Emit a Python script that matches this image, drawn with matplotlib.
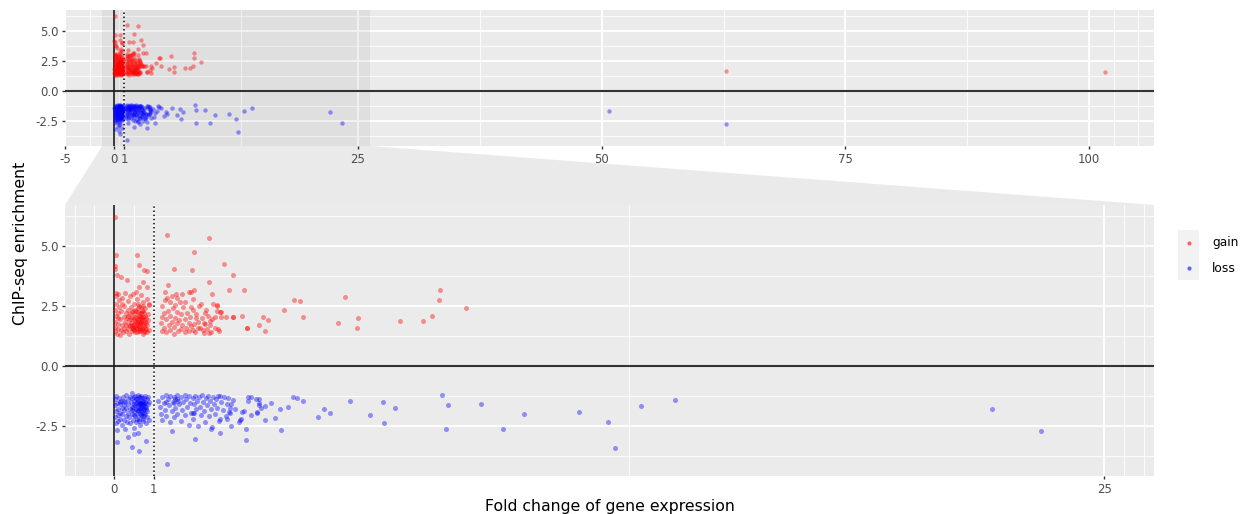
import numpy as np
import matplotlib.pyplot as plt
from matplotlib.patches import Polygon

plt.rcParams['font.family'] = 'DejaVu Sans'
plt.rcParams['axes.unicode_minus'] = False

# ---- data: (fold change, ChIP-seq enrichment) ----
gain_points = [
    # dense cluster, fold change < 1
    (0.03, 6.2), (0.05, 4.62), (0.57, 4.62), (0.02, 4.17), (0.03, 4.05), (0.64, 4.21),
    (0.75, 4.0), (0.82, 3.97), (0.07, 3.78), (0.18, 3.72), (0.32, 3.58), (0.72, 3.5),
    (0.83, 3.28), (0.64, 3.28), (0.88, 2.6),
    (0.02, 1.45), (0.03, 1.62), (0.02, 1.85), (0.04, 2.1), (0.03, 2.35), (0.05, 2.6),
    (0.04, 2.9), (0.06, 3.05), (0.08, 1.35), (0.1, 1.55), (0.09, 1.75), (0.11, 2.0),
    (0.1, 2.2), (0.12, 2.45), (0.13, 2.75), (0.11, 3.0), (0.15, 1.3), (0.17, 1.5),
    (0.16, 1.95), (0.18, 2.3), (0.19, 2.6), (0.2, 1.7), (0.21, 2.85), (0.22, 1.4),
    (0.24, 1.6), (0.25, 2.05), (0.26, 2.5), (0.27, 1.85), (0.28, 3.05), (0.29, 2.2),
    (0.3, 1.45), (0.31, 1.7), (0.33, 2.0), (0.34, 2.7), (0.35, 1.55), (0.36, 2.35),
    (0.37, 1.9), (0.38, 1.35), (0.39, 2.15), (0.4, 2.9), (0.41, 1.65), (0.42, 2.45),
    (0.43, 1.8), (0.44, 2.05), (0.45, 1.45), (0.46, 2.25), (0.47, 3.0), (0.48, 1.6),
    (0.49, 1.95), (0.5, 2.6), (0.51, 1.75), (0.52, 2.15), (0.53, 1.4), (0.54, 2.35),
    (0.55, 1.85), (0.56, 3.1), (0.57, 1.55), (0.58, 2.0), (0.59, 2.8), (0.6, 1.7),
    (0.61, 2.25), (0.62, 1.45), (0.63, 1.95), (0.64, 2.5), (0.65, 1.6), (0.66, 2.1),
    (0.67, 1.8), (0.68, 2.95), (0.69, 1.5), (0.7, 2.3), (0.71, 1.9), (0.72, 1.35),
    (0.73, 2.05), (0.74, 2.65), (0.75, 1.65), (0.76, 2.2), (0.77, 1.45), (0.78, 1.85),
    (0.79, 2.4), (0.8, 1.55), (0.81, 2.0), (0.82, 2.8), (0.83, 1.7), (0.84, 1.4),
    (0.85, 2.15), (0.86, 1.9), (0.87, 2.55), (0.88, 1.5), (0.45, 1.7), (0.5, 1.5),
    (0.55, 1.62), (0.6, 1.9), (0.65, 1.75), (0.7, 1.6), (0.62, 2.1), (0.52, 1.88),
    (0.58, 1.58), (0.68, 2.05), (0.72, 1.75), (0.47, 1.55), (0.42, 1.95), (0.38, 1.7),
    (0.35, 2.1), (0.55, 2.3), (0.6, 2.4), (0.65, 2.2), (0.7, 2.0), (0.75, 1.9),
    (0.78, 1.6), (0.72, 2.5), (0.66, 1.45), (0.58, 1.8), (0.53, 2.05), (0.48, 2.3),
    (0.63, 1.68), (0.69, 1.85), (0.74, 2.3), (0.8, 1.8), (0.57, 1.4), (0.61, 2.6),
    (0.67, 2.45), (0.71, 1.55), (0.76, 1.42), (0.5, 1.65), (0.44, 1.6), (0.64, 1.85),
    (0.69, 2.2), (0.79, 2.1),
    # cluster just above fold change 1
    (1.27, 2.2), (1.2, 1.46), (1.29, 3.07), (1.34, 2.85), (1.42, 2.68), (1.54, 2.54),
    (1.67, 2.68), (1.79, 2.68), (1.57, 2.99), (1.6, 2.85), (2.19, 2.58), (1.94, 2.47),
    (2.3, 2.2), (2.55, 2.03), (2.42, 1.89), (2.3, 1.75), (2.06, 1.99), (2.11, 1.57),
    (2.26, 1.39), (2.4, 1.39), (2.0, 1.5), (2.71, 2.26), (2.82, 2.06), (3.01, 2.06),
    (1.18, 1.8), (1.22, 2.05), (1.25, 1.6), (1.3, 1.4), (1.32, 1.95), (1.35, 2.3),
    (1.38, 1.7), (1.4, 1.5), (1.42, 2.1), (1.45, 1.85), (1.48, 2.4), (1.5, 1.35),
    (1.52, 1.62), (1.55, 2.0), (1.58, 1.78), (1.6, 2.25), (1.62, 1.45), (1.65, 1.9),
    (1.68, 1.55), (1.7, 2.15), (1.72, 1.72), (1.75, 2.45), (1.78, 1.4), (1.8, 1.95),
    (1.82, 1.6), (1.85, 2.2), (1.88, 1.8), (1.9, 1.45), (1.92, 2.05), (1.95, 1.65),
    (1.98, 2.35), (2.02, 1.75), (2.05, 1.42), (2.08, 2.15), (2.12, 1.85), (2.15, 2.5),
    (2.18, 1.6), (2.22, 2.0), (2.25, 1.48), (2.28, 1.8), (2.32, 2.35), (2.35, 1.55),
    (2.38, 2.1), (2.42, 1.7), (2.45, 1.4), (2.48, 1.95), (2.5, 2.6), (2.55, 1.6),
    (2.6, 2.3), (2.65, 1.45), (1.2, 2.5), (1.28, 2.75), (1.46, 2.9), (1.72, 3.0),
    (1.9, 3.1), (2.0, 2.8),
    # sparse points
    (1.33, 5.46), (2.40, 5.36), (2.03, 4.74), (1.51, 4.05), (1.97, 4.02), (2.77, 4.24),
    (3.0, 3.79), (1.37, 3.39), (2.40, 3.5), (2.03, 3.17), (1.94, 3.07), (2.48, 2.99),
    (2.59, 2.56), (2.91, 3.18), (3.28, 3.18), (2.6, 2.5), (2.67, 2.27), (2.7, 2.03),
    (3.0, 2.05), (3.23, 2.07), (3.36, 1.6), (3.35, 1.57), (2.62, 1.56), (3.65, 1.71),
    (3.77, 2.04), (3.88, 1.91), (3.81, 1.46), (4.3, 2.33), (4.55, 2.75), (4.7, 2.71),
    (4.76, 2.03), (5.83, 2.87), (5.66, 1.78), (6.13, 1.6), (6.17, 2.0), (7.23, 1.89),
    (7.79, 1.89), (8.04, 2.08), (8.2, 2.74), (8.23, 3.15), (8.89, 2.4),
    (62.8, 1.61), (101.6, 1.6),
]

loss_points = [
    # dense cluster, fold change < 1
    (0.02, -1.4), (0.03, -1.65), (0.04, -1.9), (0.03, -2.15), (0.05, -2.4), (0.06, -1.25),
    (0.08, -1.55), (0.09, -1.8), (0.1, -2.05), (0.11, -2.3), (0.13, -1.35), (0.14, -1.6),
    (0.15, -1.95), (0.16, -2.2), (0.18, -1.45), (0.19, -1.75), (0.2, -2.45), (0.21, -2.0),
    (0.23, -1.3), (0.24, -1.65), (0.25, -1.85), (0.26, -2.25), (0.28, -1.5), (0.29, -2.1),
    (0.3, -1.2), (0.31, -1.75), (0.33, -2.35), (0.34, -1.4), (0.35, -1.95), (0.36, -1.6),
    (0.38, -2.15), (0.39, -1.3), (0.4, -1.8), (0.41, -2.4), (0.43, -1.5), (0.44, -2.0),
    (0.45, -1.7), (0.46, -1.15), (0.48, -2.25), (0.49, -1.45), (0.5, -1.9), (0.51, -1.6),
    (0.53, -2.1), (0.54, -1.25), (0.55, -1.8), (0.56, -2.35), (0.58, -1.4), (0.59, -2.0),
    (0.6, -1.65), (0.61, -1.2), (0.62, -2.2), (0.63, -1.85), (0.64, -1.5), (0.65, -2.45),
    (0.66, -1.3), (0.67, -1.75), (0.68, -2.05), (0.69, -1.55), (0.7, -1.95), (0.71, -1.35),
    (0.72, -2.3), (0.73, -1.65), (0.74, -1.45), (0.75, -2.1), (0.76, -1.8), (0.77, -1.25),
    (0.78, -2.0), (0.79, -1.55), (0.8, -2.4), (0.81, -1.7), (0.82, -1.4), (0.83, -2.15),
    (0.84, -1.9), (0.85, -1.3), (0.86, -1.6), (0.87, -2.25), (0.88, -1.5), (0.6, -1.7),
    (0.65, -1.6), (0.7, -1.75), (0.72, -1.85), (0.68, -1.9), (0.62, -1.55), (0.75, -1.6),
    (0.5, -1.3), (0.55, -1.4), (0.45, -1.35), (0.25, -1.45), (0.15, -1.5),
    (0.55, -1.55), (0.6, -1.9), (0.65, -1.75), (0.7, -1.45), (0.75, -1.95), (0.78, -1.7),
    (0.72, -1.6), (0.66, -2.0), (0.58, -1.85), (0.53, -1.65), (0.48, -1.7), (0.63, -1.3),
    (0.69, -1.25), (0.74, -2.2), (0.8, -1.8), (0.57, -2.2), (0.61, -1.45), (0.67, -1.55),
    (0.71, -2.1), (0.76, -1.35), (0.5, -2.05), (0.44, -1.85), (0.64, -2.3), (0.69, -1.65),
    (0.79, -1.5),
    (0.07, -2.67), (0.28, -2.64), (0.51, -2.6), (0.61, -2.8), (0.51, -2.85), (0.35, -2.99),
    (0.07, -3.18), (0.45, -3.39), (0.63, -3.56), (0.8, -3.13),
    # cluster just above fold change 1
    (1.12, -1.45), (1.15, -1.7), (1.18, -2.0), (1.2, -1.3), (1.22, -2.25), (1.25, -1.55),
    (1.28, -1.85), (1.3, -1.2), (1.32, -2.1), (1.35, -1.4), (1.38, -1.65), (1.4, -2.35),
    (1.42, -1.25), (1.45, -1.9), (1.48, -1.5), (1.5, -2.15), (1.52, -1.3), (1.55, -1.75),
    (1.58, -1.2), (1.6, -2.0), (1.62, -1.45), (1.65, -1.6), (1.68, -2.3), (1.7, -1.3),
    (1.72, -1.85), (1.75, -1.5), (1.78, -1.22), (1.8, -2.05), (1.82, -1.4), (1.85, -1.7),
    (1.88, -2.45), (1.9, -1.25), (1.92, -1.55), (1.95, -1.95), (1.98, -1.35), (2.0, -2.2),
    (2.02, -1.6), (2.05, -1.25), (2.08, -1.8), (2.1, -1.45), (2.12, -2.5), (2.15, -1.3),
    (2.18, -1.7), (2.2, -2.05), (2.22, -1.22), (2.25, -1.5), (2.28, -1.9), (2.3, -2.35),
    (2.32, -1.35), (2.35, -1.65), (2.38, -1.25), (2.4, -2.1), (2.42, -1.45), (2.45, -1.8),
    (2.48, -2.55), (2.5, -1.3), (2.52, -1.6), (2.55, -2.0), (2.58, -1.4), (2.6, -1.75),
    (2.62, -1.25), (2.65, -2.3), (2.7, -1.5), (2.75, -1.85), (2.78, -1.3), (2.82, -2.1),
    (2.85, -1.6), (2.88, -1.35), (2.92, -1.75), (2.95, -2.5), (1.55, -1.4), (1.6, -1.38),
    (2.0, -1.95), (2.02, -1.98), (1.3, -1.5), (1.5, -1.55),
    # sparse points
    (1.34, -4.1), (1.46, -2.71), (2.05, -3.06), (3.34, -3.11), (3.32, -2.62), (2.67, -2.81),
    (2.44, -2.64), (4.22, -2.69), (4.07, -2.19), (3.8, -2.25), (3.61, -1.93), (3.45, -2.04),
    (3.24, -1.92), (3.18, -2.28), (3.01, -1.42), (2.85, -2.22), (2.91, -1.94), (2.68, -2.23),
    (2.68, -1.27), (3.38, -1.47), (3.38, -1.31), (3.45, -1.3), (3.65, -1.56), (3.67, -1.62),
    (3.67, -1.39), (3.59, -1.39), (3.82, -1.67), (3.71, -1.74), (3.96, -1.53), (4.2, -1.82),
    (4.38, -1.71), (4.53, -1.28), (4.61, -1.35), (4.78, -1.47), (5.14, -2.13), (5.3, -1.81),
    (5.45, -1.96), (5.96, -1.47), (6.45, -2.04), (6.79, -1.5), (6.82, -2.38), (7.1, -1.74),
    (8.28, -1.22), (8.43, -1.64), (8.37, -2.65), (9.26, -1.6), (9.82, -2.65), (10.36, -2.0),
    (11.73, -1.94), (12.48, -2.33), (12.65, -3.43), (13.3, -1.67), (14.17, -1.44),
    (22.18, -1.81), (23.4, -2.72), (2.95, -1.6), (3.06, -1.79), (2.93, -1.96), (3.27, -1.9),
    (3.62, -1.96), (3.21, -2.22), (3.16, -2.35),
    (50.8, -1.72), (62.8, -2.78),
]

groups = ['gain', 'loss']
group_colors = {'gain': '#ff0000', 'loss': '#0000ff'}

y_limits = (-4.6, 6.72)
y_ticks = [-2.5, 0.0, 2.5, 5.0]
y_ticklabels = ['-2.5', '0.0', '2.5', '5.0']
y_minor = [-3.75, -1.25, 1.25, 3.75, 6.25]

full_xlim = (-5.05, 106.65)
full_xticks = [-5, 0, 1, 25, 50, 75, 100]
full_xminor = [-2.5, 0.5, 13, 37.5, 62.5, 87.5, 102.5, 105]

zoom_xlim = (-1.24, 26.26)
zoom_xticks = [0, 1, 25]
zoom_xminor = [-1, -0.5, 0.5, 13, 25.5, 26]

# ---- figure layout (pixels of the 1244x514 canvas) ----
W, H = 1244, 514
fig = plt.figure(figsize=(W / 100, H / 100), dpi=100)


def px_box(left, top, right, bottom):
    return [left / W, 1 - bottom / H, (right - left) / W, (bottom - top) / H]


ax_full = fig.add_axes(px_box(65, 10, 1154, 146))
ax_zoom = fig.add_axes(px_box(65, 205, 1154, 476))


def draw_panel(ax, xlim, xticks, xminor, size):
    ax.set_facecolor('#ebebeb')
    for s in ax.spines.values():
        s.set_visible(False)
    ax.set_xlim(*xlim)
    ax.set_ylim(*y_limits)
    for v in y_minor:
        ax.axhline(v, color='white', lw=0.6, zorder=0.5)
    for v in y_ticks:
        ax.axhline(v, color='white', lw=1.3, zorder=0.5)
    for v in xminor:
        ax.axvline(v, color='white', lw=0.6, zorder=0.5)
    for v in xticks:
        ax.axvline(v, color='white', lw=1.3, zorder=0.5)

    for g, pts in zip(groups, [gain_points, loss_points]):
        arr = np.array(pts)
        ax.scatter(arr[:, 0], arr[:, 1], s=size, color=group_colors[g],
                   alpha=0.4, linewidths=0, zorder=3)

    ax.axhline(0, color='#333333', lw=1.5, zorder=2)
    ax.axvline(0, color='#1a1a1a', lw=1.2, zorder=2)
    ax.axvline(1, color='black', lw=1.1, ls=(0, (1, 1.7)), zorder=2)

    ax.set_xticks(xticks)
    ax.set_xticklabels([str(t) for t in xticks])
    ax.set_yticks(y_ticks)
    ax.set_yticklabels(y_ticklabels)
    ax.tick_params(length=2.5, width=1.0, color='#333333', labelcolor='#4d4d4d',
                   labelsize=8.5, pad=2.2)


draw_panel(ax_full, full_xlim, full_xticks, full_xminor, 10)
draw_panel(ax_zoom, zoom_xlim, zoom_xticks, zoom_xminor, 13)

# zoom region marked on the full panel
ax_full.axvspan(zoom_xlim[0], zoom_xlim[1], color='black', alpha=0.05, lw=0, zorder=1)

# trapezoid linking the zoom region to the zoomed panel
to_fig = fig.transFigure.inverted()
p1 = to_fig.transform(ax_full.transData.transform((zoom_xlim[0], y_limits[0])))
p2 = to_fig.transform(ax_full.transData.transform((zoom_xlim[1], y_limits[0])))
p3 = to_fig.transform(ax_zoom.transAxes.transform((1, 1)))
p4 = to_fig.transform(ax_zoom.transAxes.transform((0, 1)))
fig.patches.append(Polygon([p1, p2, p3, p4], closed=True, transform=fig.transFigure,
                           facecolor='#eaeaea', edgecolor='none', zorder=-1))

# axis titles
fig.text(21 / W, 1 - 243 / H, 'ChIP-seq enrichment', rotation=90, ha='center',
         va='center', fontsize=11.3, color='black')
fig.text(609.5 / W, 1 - 511.5 / H, 'Fold change of gene expression', ha='center',
         va='baseline', fontsize=11.3, color='black')

# legend
ax_leg = fig.add_axes(px_box(1178, 230, 1199, 280))
ax_leg.set_facecolor('#f2f2f2')
for s in ax_leg.spines.values():
    s.set_visible(False)
ax_leg.set_xticks([])
ax_leg.set_yticks([])
ax_leg.set_xlim(0, 1)
ax_leg.set_ylim(0, 2)
for i, g in enumerate(groups):
    ax_leg.scatter([0.5], [1.5 - i], s=9, color=group_colors[g], alpha=0.6, linewidths=0)
    fig.text(1212 / W, 1 - (242.5 + 25.5 * i) / H, g, ha='left', va='center',
             fontsize=8.8, color='black')

fig.savefig('out.png', dpi=100)
